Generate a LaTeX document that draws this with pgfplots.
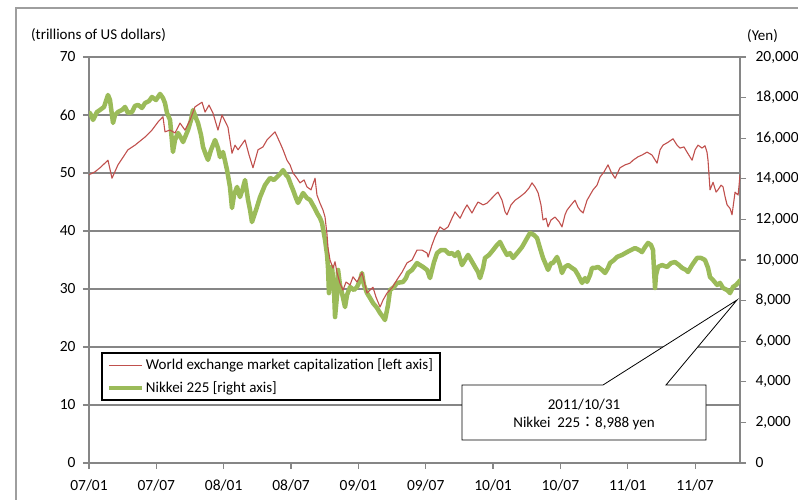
\documentclass[border=0pt]{standalone}
\usepackage{pgfplots}
\pgfplotsset{compat=1.18}
\usepackage{pgfplotstable}
\usepackage{fontspec}
\setmainfont{Carlito}
\newfontfamily\cjk{Noto Sans CJK JP}
\definecolor{mcred}{HTML}{C0504D}
\definecolor{nkgreen}{HTML}{9BBB59}
\definecolor{axgray}{HTML}{868686}

\pgfplotstableread{
m v
0.00 49.7
0.53 50.2
0.98 50.9
1.69 52.2
2.05 49.1
2.58 51.4
3.47 54.0
4.10 54.8
4.99 56.2
5.61 57.4
6.15 58.8
6.59 59.7
6.77 57.1
7.22 57.4
7.66 56.9
8.11 58.6
8.55 57.4
9.00 59.1
9.44 61.4
10.07 62.2
10.34 60.5
10.69 61.7
11.05 60.3
11.49 57.4
11.85 60.0
12.38 57.9
12.74 53.4
13.01 54.8
13.28 54.0
13.90 55.7
14.26 53.1
14.61 50.9
15.06 54.0
15.50 54.5
15.86 55.7
16.31 56.6
16.57 57.1
17.02 55.2
17.29 54.0
17.64 52.2
17.91 51.4
18.18 50.0
18.53 49.1
18.80 48.3
19.16 48.8
19.42 47.6
19.78 47.1
20.14 49.1
20.31 46.2
20.58 44.8
20.85 43.6
21.03 42.4
21.21 39.3
21.29 37.2
21.47 35.0
21.74 33.6
21.92 34.7
22.10 32.8
22.36 31.0
22.63 29.8
22.90 31.2
23.26 30.7
23.52 32.1
23.88 31.2
24.32 32.8
24.59 30.7
24.77 29.3
25.04 29.8
25.30 30.3
25.57 28.6
25.93 26.9
26.20 28.1
26.55 29.3
27.00 30.2
27.44 31.6
27.89 32.9
28.33 34.5
28.78 35.0
29.22 36.7
29.67 36.7
30.12 36.2
30.21 35.5
30.56 37.6
30.83 39.0
31.27 40.7
31.63 40.2
31.99 40.7
32.34 42.2
32.61 43.3
33.06 42.2
33.41 43.6
33.68 44.5
34.12 43.1
34.39 44.1
34.66 45.0
35.11 44.5
35.46 44.8
35.91 45.7
36.26 46.4
36.44 46.7
36.80 45.3
37.07 43.3
37.24 42.8
37.60 44.5
37.96 45.3
38.40 45.9
38.85 46.6
39.20 47.4
39.47 48.3
39.74 47.6
40.01 46.6
40.27 44.5
40.45 41.9
40.72 42.2
40.90 40.7
41.16 41.9
41.52 42.4
41.88 41.6
42.14 40.7
42.41 42.8
42.59 43.6
42.95 44.5
43.30 45.3
43.57 44.1
43.75 43.6
44.02 43.1
44.37 45.3
44.91 47.1
45.26 47.9
45.53 49.3
45.89 50.2
46.24 51.4
46.51 50.2
46.87 49.1
47.31 50.9
47.76 51.4
48.20 51.7
48.47 52.2
48.92 52.8
49.27 53.1
49.72 53.6
50.16 53.1
50.61 51.7
50.88 54.0
51.14 54.8
51.59 55.3
52.03 55.9
52.39 54.8
52.66 54.3
53.01 54.5
53.28 53.6
53.73 52.2
54.00 54.0
54.26 54.8
54.62 54.3
54.88 54.7
55.06 53.6
55.15 52.2
55.33 47.1
55.60 48.4
55.87 46.7
56.04 47.1
56.31 47.9
56.49 47.6
56.67 45.9
56.85 44.5
57.11 43.9
57.29 42.8
57.56 46.7
57.83 46.2
57.92 47.9
58.00 49.7
}\redtab

\pgfplotstableread{
m v
0.09 17240
0.36 16900
0.71 17290
0.98 17390
1.34 17540
1.69 18130
1.87 17880
2.14 16750
2.32 17140
2.58 17290
2.94 17390
3.21 17540
3.47 17240
3.83 17290
4.10 17590
4.37 17640
4.72 17490
4.99 17730
5.35 17830
5.61 18030
5.97 17880
6.33 18180
6.59 17980
6.77 17730
6.95 17240
7.22 16900
7.48 15320
7.66 15910
7.93 16260
8.20 16010
8.38 15810
8.64 16160
8.82 16400
9.09 16900
9.27 17390
9.53 16990
9.71 16750
9.98 16160
10.16 15570
10.42 15170
10.60 14930
10.87 15420
11.23 15910
11.49 15520
11.67 15070
11.94 15320
12.30 14430
12.56 13600
12.74 12560
12.92 13200
13.19 13600
13.45 13100
13.72 13550
13.90 13940
14.17 12960
14.35 12460
14.52 11870
14.88 12460
15.24 13100
15.68 13690
16.13 14040
16.48 13940
16.75 14090
17.11 14290
17.29 14430
17.55 14190
17.73 14090
18.00 13690
18.18 13450
18.44 13050
18.62 12810
18.89 13100
19.07 13300
19.42 13050
19.69 12960
20.05 12610
20.31 12320
20.58 12070
20.76 11820
21.03 10990
21.21 10250
21.29 9660
21.38 8370
21.56 9260
21.65 9660
21.83 8520
21.92 7190
22.10 8280
22.19 9510
22.36 8770
22.54 8370
22.81 7680
22.99 8280
23.26 8670
23.61 8520
23.88 8670
24.15 9010
24.32 9360
24.50 8770
24.77 8370
25.04 8130
25.30 7880
25.66 7640
25.93 7390
26.20 7190
26.37 7040
26.64 7780
26.82 8520
27.18 8670
27.44 8870
27.98 8920
28.24 9110
28.42 9360
28.78 9510
29.22 9850
29.49 9750
29.76 9660
30.12 9510
30.38 9110
30.74 9900
31.01 10340
31.36 10490
31.72 10490
32.08 10300
32.34 10340
32.61 10200
32.88 10390
33.23 9750
33.50 10000
33.77 10250
34.04 10000
34.39 9660
34.66 9410
34.84 9110
35.11 9610
35.28 10100
35.64 10250
36.00 10490
36.35 10740
36.62 10890
36.89 10590
37.24 10250
37.51 10340
37.78 10100
38.22 10390
38.58 10640
38.94 10990
39.29 11330
39.65 11230
39.92 11080
40.18 10590
40.45 10100
40.72 9750
40.90 9510
41.16 9850
41.34 9850
41.70 10150
41.96 9750
42.14 9360
42.41 9660
42.68 9750
43.03 9610
43.30 9510
43.57 9260
43.93 8870
44.19 9110
44.37 8920
44.64 9260
44.82 9610
45.09 9610
45.35 9660
45.71 9510
45.98 9360
46.24 9610
46.42 9850
46.78 10000
47.04 10150
47.49 10250
47.94 10390
48.29 10490
48.65 10590
49.01 10490
49.27 10390
49.54 10640
49.81 10840
50.07 10740
50.25 10490
50.34 9510
50.43 8620
50.52 9260
50.70 9660
51.05 9750
51.50 9660
51.86 9850
52.21 9900
52.57 9750
52.84 9610
53.19 9510
53.37 9410
53.73 9750
54.17 10100
54.53 10100
54.88 10000
55.15 9610
55.33 9160
55.60 9010
55.96 8770
56.22 8870
56.49 8620
56.85 8520
57.11 8370
57.38 8670
57.65 8770
58.00 8988
}\greentab

\begin{document}
\begin{tikzpicture}[x=1pt,y=1pt]
\path[use as bounding box] (0,0) rectangle (798,500);
\clip (0,0) rectangle (798,500);
\draw[axgray!80, line width=1.3pt] (16,-20) rectangle (900,492);
\pgfplotsset{base/.style={scale only axis, width=651pt, height=406pt,
  at={(89pt,37pt)}, anchor=south west, xmin=0, xmax=58,
  /pgf/number format/assume math mode=true,
  tick label style={font=\fontsize{15.5}{18}\selectfont},
  axis line style={axgray, line width=1.6pt, -},
  tick align=outside, major tick length=6pt,
  tick style={axgray, line width=1.2pt}}}
% axis A: left scale, grid and axes
\begin{axis}[base, ymin=0, ymax=70, ytick={0,10,...,70},
  xtick={0,6,...,54},
  xticklabels={07/01,07/07,08/01,08/07,09/01,09/07,10/01,10/07,11/01,11/07},
  xticklabel style={yshift=-7pt},
  yticklabel style={xshift=-4pt},
  axis x line*=bottom, axis y line*=left,
  ymajorgrids, grid style={axgray, line width=1.2pt}]
\addplot[draw=none] coordinates {(0,0)};
\end{axis}
% axis B: right scale, Nikkei
\begin{axis}[base, ymin=0, ymax=20000, ytick={0,2000,...,20000},
  axis y line*=right, axis x line=none, scaled y ticks=false,
  /pgf/number format/fixed, /pgf/number format/1000 sep={,},
  yticklabel style={anchor=west, xshift=6pt}]
\addplot[nkgreen, line width=4.5pt, line join=round, line cap=round] table[x=m,y=v] {\greentab};
\end{axis}
% axis C: left scale, market cap + legend
\begin{axis}[base, ymin=0, ymax=70, hide axis,
  legend cell align=left,
  legend image code/.code={\draw[#1] (0pt,0pt) -- (33pt,0pt);},
  legend style={at={(0.0184,0.2734)}, anchor=north west, draw=black,
    line width=2pt, font=\fontsize{15}{18}\selectfont,
    inner xsep=5pt, inner ysep=4pt, row sep=6pt}]
\addplot[mcred, line width=1.1pt, line join=round] table[x=m,y=v] {\redtab};
\addlegendentry{World exchange market capitalization [left axis]}
\addlegendimage{nkgreen, line width=4pt}
\addlegendentry{Nikkei 225 [right axis]}
\end{axis}
% callout
\draw[black, line width=0.8pt, fill=white] (462,115) -- (603,115) -- (737,200) -- (666,115) -- (706,115) -- (706,60) -- (462,60) -- cycle;
\node[font=\fontsize{15}{18}\selectfont, inner sep=0pt] at (584,95) {2011/10/31};
\node[font=\fontsize{15}{18}\selectfont, inner sep=0pt] at (584,76) {Nikkei\ \ 225{\cjk ：}8,988 yen};
% unit labels
\node[anchor=west, inner sep=0pt, font=\fontsize{15}{18}\selectfont] at (31,465) {(trillions of US dollars)};
\node[anchor=west, inner sep=0pt, font=\fontsize{15}{18}\selectfont] at (747,464) {(Yen)};
\end{tikzpicture}
\end{document}
